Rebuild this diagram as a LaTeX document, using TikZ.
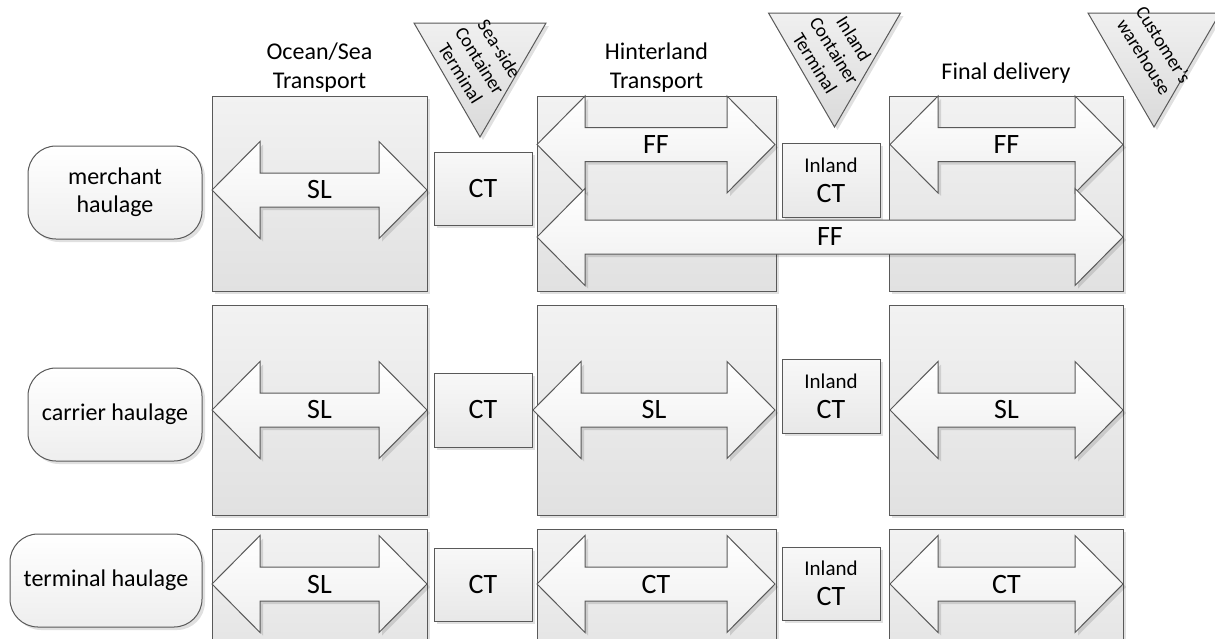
\documentclass[tikz,border=0pt]{standalone}
\usepackage{fontspec}
\setmainfont{Carlito}
\usetikzlibrary{shadows}
\definecolor{edge}{RGB}{89,89,89}
\definecolor{boxtop}{RGB}{242,242,242}
\definecolor{boxbot}{RGB}{225,225,225}
\definecolor{cttop}{RGB}{248,248,248}
\definecolor{ctbot}{RGB}{232,232,232}
\definecolor{arrbot}{RGB}{238,238,238}
\definecolor{tritop}{RGB}{240,240,240}
\definecolor{tribot}{RGB}{218,218,218}
\tikzset{
  boxshadow/.style={drop shadow={shadow xshift=3pt, shadow yshift=-3pt, fill=black, opacity=0.12}},
  stage/.style={draw=edge, line width=1pt, top color=boxtop, bottom color=boxbot, boxshadow, inner sep=0pt},
  ctbox/.style={draw=edge, line width=1pt, top color=cttop, bottom color=ctbot, boxshadow, inner sep=0pt,
    minimum width=98pt, align=center, font=\fontsize{28}{30}\selectfont},
  haulage/.style={draw=edge, line width=1pt, rounded corners=28pt, top color=white, bottom color=arrbot,
    boxshadow, align=center, font=\fontsize{24}{28}\selectfont, minimum height=93pt},
  blockarrow/.style={draw=edge, line width=1pt, top color=white, bottom color=arrbot, boxshadow, line join=miter},
  arrowlabel/.style={font=\fontsize{28}{30}\selectfont, inner sep=0pt},
  header/.style={align=center, font=\fontsize{24}{29}\selectfont},
  tritext/.style={align=center, rotate=-58, font=\fontsize{19}{23}\selectfont, inner sep=0pt},
  terminaltri/.style={draw=edge, line width=1pt, top color=tritop, bottom color=tribot, boxshadow, line join=miter}
}
\newcommand{\dblarrow}[5]{%
  \draw[blockarrow] (#2,#4) -- ++(48,-48.5) -- ++(0,31.5) -- (#3-48,#4-17) -- ++(0,-31.5) -- (#3,#4)
    -- (#3-48,#4+48.5) -- ++(0,-31.5) -- (#2+48,#4+17) -- ++(0,31.5) -- cycle;
  \node[arrowlabel] (#1) at ({(#2+#3)/2},#4) {#5};
}
\newcommand{\pointtri}[4]{%
  \draw[terminaltri] (#2,#3) -- (#2+132,#3) -- (#2+66,#3+114) -- cycle;
  \node[tritext] (#1) at (#2+66,#3+38) {#4};
}
\begin{document}
\begin{tikzpicture}[x=1pt, y=-1pt]
  \useasboundingbox (0,0) rectangle (1215,638);

  \node[haulage, minimum width=174pt] (merchant) at (115,192.5) {merchant\\haulage};
  \node[haulage, minimum width=174pt] (carrier) at (115,414.5) {carrier haulage};
  \node[haulage, minimum width=192pt] (terminal) at (106,580.5) {terminal haulage};

  \node[stage, minimum width=215pt, minimum height=195pt] (ocean1) at (319.5,193.5) {};
  \node[stage, minimum width=239pt, minimum height=195pt] (hinter1) at (656.5,193.5) {};
  \node[stage, minimum width=234pt, minimum height=195pt] (final1) at (1006,193.5) {};
  \node[stage, minimum width=215pt, minimum height=210pt] (ocean2) at (319.5,410) {};
  \node[stage, minimum width=239pt, minimum height=210pt] (hinter2) at (656.5,410) {};
  \node[stage, minimum width=234pt, minimum height=210pt] (final2) at (1006,410) {};
  \node[stage, minimum width=215pt, minimum height=151pt] (ocean3) at (319.5,604.5) {};
  \node[stage, minimum width=239pt, minimum height=151pt] (hinter3) at (656.5,604.5) {};
  \node[stage, minimum width=234pt, minimum height=151pt] (final3) at (1006,604.5) {};

  \node[ctbox, minimum height=73pt] (ct1) at (483,188.5) {CT};
  \node[ctbox, minimum height=74pt] (ct2) at (483,410) {CT};
  \node[ctbox, minimum height=73pt] (ct3) at (483,584.5) {CT};
  \node[ctbox, minimum height=74pt] (ict1) at (831,180) {{\fontsize{21}{25}\selectfont Inland}\\CT};
  \node[ctbox, minimum height=74pt] (ict2) at (831,396) {{\fontsize{21}{25}\selectfont Inland}\\CT};
  \node[ctbox, minimum height=73pt] (ict3) at (831,583.5) {{\fontsize{21}{25}\selectfont Inland}\\CT};

  \dblarrow{sl1}{212}{427}{190}{SL}
  \dblarrow{ff1}{537}{775}{144.5}{FF}
  \dblarrow{ff2}{890}{1123}{144.5}{FF}
  \dblarrow{fflong}{537}{1123}{237}{FF}
  \dblarrow{sl2}{212}{427}{410}{SL}
  \dblarrow{sl3}{533}{775}{410}{SL}
  \dblarrow{sl4}{890}{1123}{410}{SL}
  \dblarrow{sl5}{212}{427}{584}{SL}
  \dblarrow{ctarr1}{537}{775}{584}{CT}
  \dblarrow{ctarr2}{890}{1123}{584}{CT}

  \pointtri{seaside}{414}{23}{Sea-side\\Container\\Terminal}
  \pointtri{inland}{768.5}{13}{Inland\\Container\\Terminal}
  \pointtri{customer}{1088}{13}{Customer's\\warehouse}

  \node[header] (ocean) at (319.5,67.5) {Ocean/Sea\\Transport};
  \node[header] (hinter) at (656.5,67.5) {Hinterland\\Transport};
  \node[header] (final) at (1006,73) {Final delivery};
\end{tikzpicture}
\end{document}
